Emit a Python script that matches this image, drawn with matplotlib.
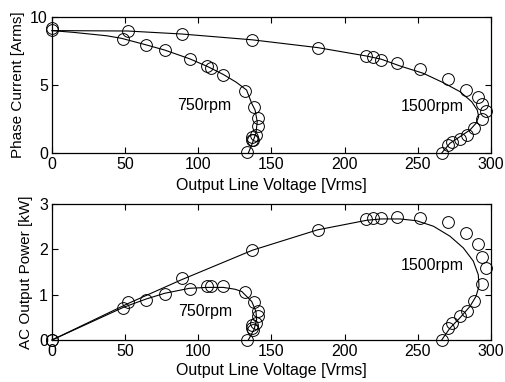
import matplotlib.pyplot as plt

plt.rcParams['font.family'] = ['Liberation Sans', 'DejaVu Sans']
plt.rcParams['font.size'] = 11.5

# measured points (circles)
v750_pts = [0, 48.8, 64, 77, 94.1, 106.2, 108.7, 117.1, 131.9, 138.3, 141, 141, 139.4, 137.2, 136.9, 137, 133.5]
i750_pts = [9.2, 8.36, 7.94, 7.57, 6.93, 6.42, 6.22, 5.76, 4.56, 3.38, 2.6, 1.99, 1.32, 0.96, 1.2, 0.96, 0.07]
p750_pts = [0, 0.70, 0.89, 1.02, 1.13, 1.18, 1.18, 1.18, 1.05, 0.83, 0.63, 0.52, 0.37, 0.23, 0.34, 0.27, 0.0]

v1500_pts = [0, 51.7, 88.6, 136.9, 181.6, 214.4, 219.6, 224.9, 235.8, 251.8, 270.7, 283.2, 291.4,
             294.1, 296.4, 293.9, 288.2, 283.4, 279.1, 273.2, 270.9, 266.4]
i1500_pts = [9.04, 8.97, 8.72, 8.31, 7.74, 7.13, 7.03, 6.86, 6.62, 6.15, 5.44, 4.66, 4.09,
             3.6, 3.07, 2.48, 1.81, 1.32, 1.05, 0.79, 0.59, 0.0]
p1500_pts = [0, 0.83, 1.37, 1.98, 2.43, 2.67, 2.69, 2.69, 2.72, 2.69, 2.60, 2.35, 2.11,
             1.82, 1.58, 1.23, 0.87, 0.65, 0.52, 0.37, 0.26, 0.0]

# calculated curves (lines)
v750_i_line = [0, 14.6, 37.4, 47.6, 64.7, 77, 94, 106.5, 117, 126, 133, 136.5, 138.8, 140.3, 139.4, 136.5, 134.2]
i750_line = [9.0, 8.87, 8.62, 8.43, 7.94, 7.57, 6.93, 6.35, 5.78, 5.2, 4.63, 3.65, 3.16, 2.3, 1.45, 0.59, 0.0]
v750_p_line = [0, 48.8, 64, 77, 94, 106, 117, 125, 129.7, 136.5, 139.4, 139.9, 138.1, 134.2]
p750_line = [0, 0.72, 0.9, 1.03, 1.14, 1.16, 1.16, 1.12, 1.07, 0.85, 0.63, 0.45, 0.23, 0.0]

v1500_i_line = [0, 51.7, 88.6, 137, 181.6, 215, 225, 237.9, 253.8, 267.5, 278.9, 286.9, 290.7,
                291.7, 289.8, 285.7, 278.9, 272, 266.4]
i1500_line = [9.0, 8.97, 8.75, 8.32, 7.75, 7.13, 6.9, 6.4, 5.86, 5.17, 4.51, 3.77, 3.16,
              2.67, 2.18, 1.69, 1.2, 0.71, 0.0]
v1500_p_line = [0, 51.7, 88.6, 137, 181.6, 215, 225, 237.9, 249.3, 260.7, 272, 281.2, 288, 291.4,
                291.9, 289.8, 285.7, 278.9, 272, 266.4]
p1500_line = [0, 0.80, 1.33, 1.98, 2.43, 2.64, 2.67, 2.67, 2.63, 2.51, 2.29, 2.03, 1.74, 1.44,
              1.18, 0.96, 0.74, 0.49, 0.26, 0.0]

fig = plt.figure(figsize=(5.05, 3.82), dpi=100)
ax1 = fig.add_axes([0.103, 0.5995, 0.869, 0.356])
ax2 = fig.add_axes([0.103, 0.110, 0.869, 0.356])

mk = dict(marker='o', linestyle='none', markersize=8.5, markerfacecolor='none',
          markeredgecolor='black', markeredgewidth=0.7)
ln = dict(color='black', linewidth=0.8)

ax1.plot(v750_i_line, i750_line, **ln)
ax1.plot(v1500_i_line, i1500_line, **ln)
ax1.plot(v750_pts, i750_pts, **mk)
ax1.plot(v1500_pts, i1500_pts, **mk)
ax1.text(104, 3.5, '750rpm', ha='center', va='center')
ax1.text(260, 3.4, '1500rpm', ha='center', va='center')
ax1.set_xlim(0, 300)
ax1.set_ylim(0, 10)
ax1.set_yticks([0, 5, 10])
ax1.set_xlabel('Output Line Voltage [Vrms]', labelpad=4)
ax1.set_ylabel('Phase Current [Arms]', labelpad=4, fontsize=11)

ax2.plot(v750_p_line, p750_line, **ln)
ax2.plot(v1500_p_line, p1500_line, **ln)
ax2.plot(v750_pts, p750_pts, **mk)
ax2.plot(v1500_pts, p1500_pts, **mk)
ax2.text(105, 0.63, '750rpm', ha='center', va='center')
ax2.text(260, 1.65, '1500rpm', ha='center', va='center')
ax2.set_xlim(0, 300)
ax2.set_ylim(0, 3)
ax2.set_yticks([0, 1, 2, 3])
ax2.set_xlabel('Output Line Voltage [Vrms]', labelpad=3)
ax2.set_ylabel('AC Output Power [kW]', labelpad=4, fontsize=11)

for ax in (ax1, ax2):
    ax.set_xticks([0, 50, 100, 150, 200, 250, 300])
    ax.tick_params(direction='in', top=True, right=True, length=4, width=0.8, pad=3)
    for s in ax.spines.values():
        s.set_linewidth(0.9)
    for p in ax.lines:
        p.set_clip_on(False)

fig.savefig('out.png', dpi=100)
